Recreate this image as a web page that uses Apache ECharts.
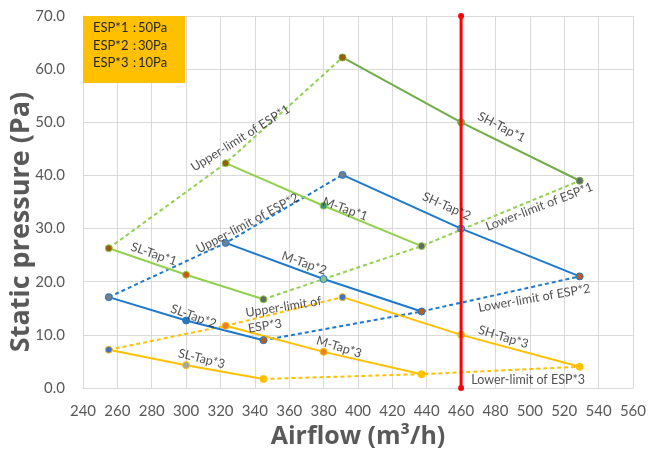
<!DOCTYPE html>
<html><head><meta charset="utf-8">
<script src="https://cdn.jsdelivr.net/npm/echarts@6/dist/echarts.min.js"></script>
<style>html,body{margin:0;padding:0;background:#fff}#c{width:649px;height:457px}</style>
</head><body><div id="c"></div>
<script>
// ---- data ----
const xMin = 240, xMax = 560, xStep = 20;
const yMin = 0, yMax = 70, yStep = 10;
const slX = [255, 300, 345];
const mX = [323, 380, 437];
const shX = [391, 460, 529];
const slTap1 = [26.3, 21.3, 16.7];
const mTap1 = [42.3, 34.3, 26.7];
const shTap1 = [62.2, 50.0, 39.0];
const slTap2 = [17.1, 12.7, 9.0];
const mTap2 = [27.3, 20.5, 14.4];
const shTap2 = [40.1, 30.0, 21.0];
const slTap3 = [7.2, 4.3, 1.7];
const mTap3 = [11.7, 6.8, 2.6];
const shTap3 = [17.1, 10.0, 4.0];
const ratedX = [460, 460];
const ratedY = [0, 70];
const espNames = ['ESP*1', 'ESP*2', 'ESP*3'];
const espPa = [50, 30, 10];
// annotation texts: [text, x, y, rotation]
const notes = [
  ['Upper-limit of ESP*1', 331.6, 47.0, 32],
  ['Upper-limit of ESP*2', 335.7, 31.0, 28],
  ['SL-Tap*1', 281.2, 25.2, -19],
  ['M-Tap*1', 392.5, 33.7, -20],
  ['SH-Tap*1', 483.5, 49.1, -27],
  ['Lower-limit of ESP*1', 505.5, 34.1, 21],
  ['SH-Tap*2', 451.6, 34.2, -24],
  ['M-Tap*2', 368.7, 23.5, -20],
  ['SL-Tap*2', 304.3, 13.5, -20],
  ['M-Tap*3', 389.0, 7.7, -17],
  ['SL-Tap*3', 309.0, 5.5, -14],
  ['SH-Tap*3', 484.6, 9.6, -17],
  ['Lower-limit of ESP*2', 502.6, 16.9, 10],
  ['Lower-limit of ESP*3', 499.0, 1.5, 0]
];
const note3 = ['Upper-limit of\nESP*3', 356.0, 13.7, 9];

// ---- styles ----
const G1 = '#92D050', G2 = '#70AD47', B = '#1E78CE', Y = '#FFC000';
const BR = '#9A5B0A', OR = '#C55A11', GR = '#646b64', BG = '#708090';

function pts(xs, ys) { return xs.map((x, i) => [x, ys[i]]); }
function tap(xs, ys, color, fills) {
  return {
    type: 'line', data: xs.map((x, i) => ({ value: [x, ys[i]], itemStyle: { color: fills[i], borderColor: color, borderWidth: 1 } })),
    symbol: 'circle', symbolSize: 7, showSymbol: true,
    lineStyle: { color: color, width: 2 }, itemStyle: { color: color },
    z: 3, animation: false
  };
}
function limit(xs, ys, color) {
  return {
    type: 'line', data: pts(xs, ys), showSymbol: false, symbol: 'none',
    lineStyle: { color: color, width: 2, type: [4, 3] }, z: 2, animation: false
  };
}

const series = [
  limit([slX[0], mX[0], shX[0]], [slTap1[0], mTap1[0], shTap1[0]], G1),
  limit([slX[2], mX[2], shX[2]], [slTap1[2], mTap1[2], shTap1[2]], G1),
  limit([slX[0], mX[0], shX[0]], [slTap2[0], mTap2[0], shTap2[0]], B),
  limit([slX[2], mX[2], shX[2]], [slTap2[2], mTap2[2], shTap2[2]], B),
  limit([slX[0], mX[0], shX[0]], [slTap3[0], mTap3[0], shTap3[0]], Y),
  limit([slX[2], mX[2], shX[2]], [slTap3[2], mTap3[2], shTap3[2]], Y),
  tap(slX, slTap1, G1, [BR, OR, GR]),
  tap(mX, mTap1, G1, [BR, '#3f8f80', GR]),
  tap(shX, shTap1, G2, [BR, G2, GR]),
  {
    type: 'line', data: pts(ratedX, ratedY), symbol: 'circle', symbolSize: 6,
    lineStyle: { color: '#FF0000', width: 3 }, itemStyle: { color: '#FF0000' }, z: 4, animation: false
  },
  tap(slX, slTap2, B, [BG, '#2E75B6', OR]),
  tap(mX, mTap2, B, [BG, '#8FC67A', OR]),
  tap(shX, shTap2, B, [BG, '#5B9BD5', OR]),
  tap(slX, slTap3, Y, ['#4472C4', '#A5A5A5', Y]),
  tap(mX, mTap3, Y, ['#ED7D31', '#ED7D31', Y]),
  tap(shX, shTap3, Y, ['#4472C4', '#C9B458', Y]),
  {
    type: 'scatter', symbolSize: 0, z: 10, animation: false, silent: true,
    data: notes.map(n => ({ value: [n[1], n[2]], name: n[0], label: { rotate: n[3] } })).concat([
      { value: [note3[1], note3[2]], name: note3[0], label: { rotate: note3[3], align: 'left', offset: [-36, 0] } }
    ]),
    label: {
      show: true, position: 'inside', formatter: p => p.name,
      color: '#262626', fontSize: 12.5, fontFamily: 'Lato', align: 'center', verticalAlign: 'middle', lineHeight: 16
    }
  }
];

const chart = echarts.init(document.getElementById('c'), null, { renderer: 'canvas' });
chart.setOption({
  animation: false,
  backgroundColor: '#fff',
  grid: { left: 83, right: 14, top: 16, bottom: 69, containLabel: false },
  xAxis: {
    type: 'value', min: xMin, max: xMax, interval: xStep,
    axisLine: { show: true, lineStyle: { color: '#d9d9d9' } }, axisTick: { show: false },
    splitLine: { show: true, lineStyle: { color: '#d9d9d9' } },
    axisLabel: { color: '#595959', fontSize: 15, fontFamily: 'Lato', margin: 16 },
    name: 'Airflow (m³/h)', nameLocation: 'middle', nameGap: 36,
    nameTextStyle: { color: '#595959', fontSize: 25, fontWeight: 'bold', fontFamily: 'Open Sans' }
  },
  yAxis: {
    type: 'value', min: yMin, max: yMax, interval: yStep,
    axisLine: { show: true, lineStyle: { color: '#d9d9d9' } }, axisTick: { show: false },
    splitLine: { show: true, lineStyle: { color: '#d9d9d9' } },
    axisLabel: { color: '#595959', fontSize: 15, fontFamily: 'Lato', margin: 18, formatter: v => v.toFixed(1) }
  },
  graphic: [
    { type: 'text', x: 21, y: 222, rotation: Math.PI / 2, z: 20,
      style: { text: 'Static pressure (Pa)', fill: '#595959', font: 'bold 27px "Open Sans"', align: 'center', verticalAlign: 'middle' } },
    { type: 'rect', shape: { x: 83, y: 16, width: 102, height: 67 }, style: { fill: '#FFC000' }, z: 20 },
    ...espNames.map((n, i) => ({ type: 'text', x: 93, y: 28 + i * 17.5, z: 21,
      style: { text: n + '：', fill: '#262626', font: '13px Lato', verticalAlign: 'middle' } })),
    ...espPa.map((v, i) => ({ type: 'text', x: 138, y: 28 + i * 17.5, z: 21,
      style: { text: v + 'Pa', fill: '#262626', font: '13px Lato', verticalAlign: 'middle' } }))
  ],
  series: series
});
</script></body></html>
